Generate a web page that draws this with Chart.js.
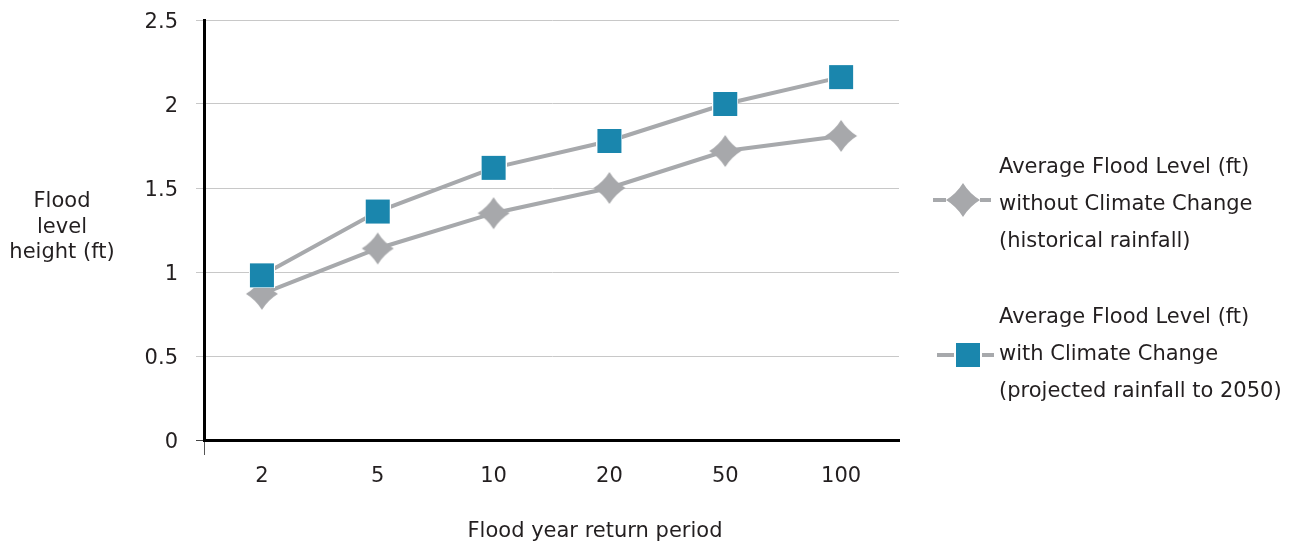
<!DOCTYPE html>
<html>
<head>
<meta charset="utf-8">
<script src="https://cdn.jsdelivr.net/npm/chart.js@4/dist/chart.umd.min.js"></script>
<style>
  html, body { margin: 0; padding: 0; background: #fff; }
  canvas { display: block; }
</style>
</head>
<body>
<canvas id="chart" width="1302" height="545"></canvas>
<script>
// Flood year return periods (x categories)
const returnPeriods = ['2', '5', '10', '20', '50', '100'];
// Average flood level (ft), historical rainfall
const levelHistorical = [0.87, 1.14, 1.35, 1.50, 1.72, 1.81];
// Average flood level (ft), projected rainfall to 2050
const levelProjected = [0.98, 1.36, 1.62, 1.78, 2.00, 2.16];
// Legend text, one entry per line
const labelHistorical = ['Average Flood Level (ft)', 'without Climate Change', '(historical rainfall)'];
const labelProjected = ['Average Flood Level (ft)', 'with Climate Change', '(projected rainfall to 2050)'];
// Axis titles
const yTitleLines = ['Flood', 'level', 'height (ft)'];
const xTitleText = 'Flood year return period';

const FONT = '"DejaVu Sans", "Open Sans", sans-serif';
const FONT_SIZE = 21;
const TEXT = '#231f20';
const LINE_GREY = '#a7a9ac';
const STAR_GREY = '#a7a8ab';
const BLUE = '#1a86ad';

// Four-pointed star with concave sides
function makeStar(r, color) {
  const s = Math.ceil(r * 2) + 2;
  const c = document.createElement('canvas');
  c.width = c.height = s;
  const g = c.getContext('2d');
  const cx = s / 2, cy = s / 2, k = r * 0.38;
  g.beginPath();
  g.moveTo(cx, cy - r);
  g.quadraticCurveTo(cx + k, cy - k, cx + r, cy);
  g.quadraticCurveTo(cx + k, cy + k, cx, cy + r);
  g.quadraticCurveTo(cx - k, cy + k, cx - r, cy);
  g.quadraticCurveTo(cx - k, cy - k, cx, cy - r);
  g.closePath();
  g.fillStyle = color;
  g.fill();
  return c;
}

// Filled square with a thin white edge
function makeSquare(side, color) {
  const s = side + 2;
  const c = document.createElement('canvas');
  c.width = c.height = s;
  const g = c.getContext('2d');
  g.fillStyle = '#ffffff';
  g.fillRect(0, 0, s, s);
  g.fillStyle = color;
  g.fillRect(1, 1, side, side);
  return c;
}

const starImg = makeStar(16, STAR_GREY);
const legendStarImg = makeStar(17, STAR_GREY);
const squareImg = makeSquare(24, BLUE);

// Horizontal y-axis title, x-axis title and the side legend
const annotations = {
  id: 'annotations',
  afterDraw(chart) {
    const ctx = chart.ctx;
    ctx.save();
    ctx.fillStyle = TEXT;
    ctx.font = FONT_SIZE + 'px ' + FONT;
    ctx.textBaseline = 'middle';

    // y title
    ctx.textAlign = 'center';
    yTitleLines.forEach((t, i) => ctx.fillText(t, 62, 202 + i * 25.5));

    // x title
    ctx.fillText(xTitleText, 595, 532);

    // legend
    const entries = [
      { img: legendStarImg, cx: 963, cy: 200, dash: [[933, 946], [980, 991]], lines: labelHistorical, top: 168 },
      { img: squareImg, cx: 968, cy: 355, dash: [[937, 954], [982, 994]], lines: labelProjected, top: 318 }
    ];
    entries.forEach(e => {
      ctx.strokeStyle = LINE_GREY;
      ctx.lineWidth = 4;
      e.dash.forEach(([a, b]) => {
        ctx.beginPath();
        ctx.moveTo(a, e.cy);
        ctx.lineTo(b, e.cy);
        ctx.stroke();
      });
      ctx.drawImage(e.img, Math.round(e.cx - e.img.width / 2), Math.round(e.cy - e.img.height / 2));
      ctx.textAlign = 'left';
      ctx.fillStyle = TEXT;
      e.lines.forEach((t, i) => ctx.fillText(t, 999, e.top + i * 37));
    });
    ctx.restore();
  }
};

new Chart(document.getElementById('chart'), {
  type: 'line',
  data: {
    labels: returnPeriods,
    datasets: [
      {
        label: labelProjected.join(' '),
        data: levelProjected,
        borderColor: LINE_GREY,
        borderWidth: 4,
        pointStyle: squareImg,
        pointRadius: 13,
        tension: 0,
        order: 0
      },
      {
        label: labelHistorical.join(' '),
        data: levelHistorical,
        borderColor: LINE_GREY,
        borderWidth: 4,
        pointStyle: starImg,
        pointRadius: 16,
        tension: 0,
        order: 1
      }
    ]
  },
  options: {
    responsive: false,
    animation: false,
    events: [],
    layout: { padding: { top: 16, right: 403, left: 0, bottom: 0 } },
    plugins: {
      legend: { display: false },
      tooltip: { enabled: false },
      title: { display: false }
    },
    scales: {
      x: {
        offset: true,
        afterFit(scale) { scale.height = 105; },
        border: { color: '#000', width: 3 },
        grid: {
          offset: true,
          drawOnChartArea: false,
          drawTicks: true,
          tickLength: 15,
          tickColor: ctx => ctx.index === 0 ? '#555' : 'rgba(0,0,0,0)',
          color: ctx => ctx.index === 0 ? '#555' : 'rgba(0,0,0,0)'
        },
        ticks: {
          color: TEXT,
          padding: 9,
          maxRotation: 0,
          font: { family: FONT, size: FONT_SIZE }
        }
      },
      y: {
        min: 0,
        max: 2.5,
        afterFit(scale) {
          scale.width = 204;
          scale.paddingTop = 0;
          scale.paddingBottom = 0;
        },
        border: { color: '#000', width: 3 },
        grid: {
          color: ctx => ctx.tick && ctx.tick.value === 0 ? '#444' : '#c8c8c8',
          tickColor: ctx => ctx.tick && ctx.tick.value === 0 ? '#444' : '#c8c8c8',
          tickLength: 8,
          lineWidth: 1
        },
        ticks: {
          stepSize: 0.5,
          color: TEXT,
          padding: 18,
          labelOffset: 3,
          font: { family: FONT, size: FONT_SIZE },
          callback: v => String(v)
        }
      }
    }
  },
  plugins: [annotations]
});
</script>
</body>
</html>
